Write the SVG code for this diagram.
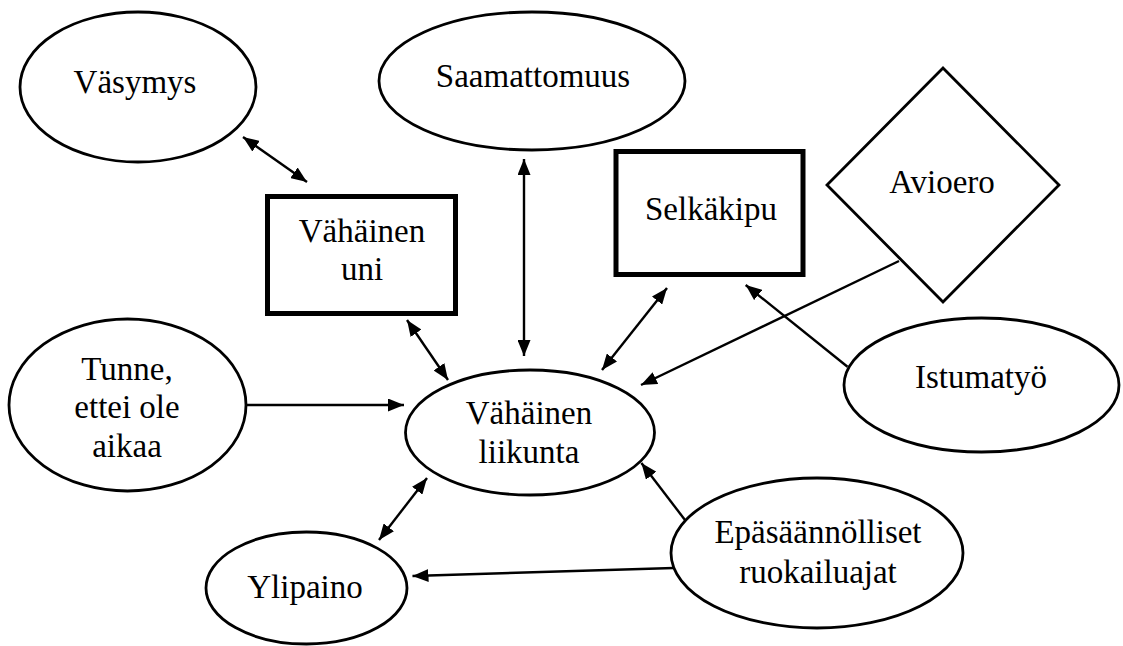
<svg xmlns="http://www.w3.org/2000/svg" width="1123" height="646" viewBox="0 0 1123 646">
<style>
.n{fill:#fff;stroke:#000;stroke-width:2.8}
.b{fill:#fff;stroke:#000;stroke-width:5}
.t{font-family:"Liberation Serif","DejaVu Serif",serif;font-size:33px;fill:#000;text-anchor:middle}
.c line{stroke:#000;stroke-width:2.4}
</style>
<defs>
<marker id="ah" viewBox="0 0 16 13" refX="16" refY="6.5" markerWidth="16" markerHeight="13" markerUnits="userSpaceOnUse" orient="auto-start-reverse">
<path d="M0,0 L16,6.5 L0,13 z" fill="#000"/>
</marker>
</defs>
<rect width="1123" height="646" fill="#fff"/>
<g class="c" id="connectors">
<line x1="243" y1="137" x2="307" y2="182" marker-start="url(#ah)" marker-end="url(#ah)"/>
<line x1="524" y1="159" x2="524" y2="356" marker-start="url(#ah)" marker-end="url(#ah)"/>
<line x1="407" y1="320" x2="448" y2="380" marker-start="url(#ah)" marker-end="url(#ah)"/>
<line x1="667" y1="288" x2="602" y2="370" marker-start="url(#ah)" marker-end="url(#ah)"/>
<line x1="899" y1="261" x2="641" y2="385" marker-end="url(#ah)"/>
<line x1="847.5" y1="366.7" x2="745.7" y2="285" marker-end="url(#ah)"/>
<line x1="246" y1="405" x2="404" y2="405" marker-end="url(#ah)"/>
<line x1="427" y1="478" x2="379" y2="540" marker-start="url(#ah)" marker-end="url(#ah)"/>
<line x1="685" y1="520" x2="641.4" y2="463" marker-end="url(#ah)"/>
<line x1="673.6" y1="568" x2="412.5" y2="576" marker-end="url(#ah)"/>
</g>
<g id="vasymys"><ellipse class="n" cx="138" cy="87" rx="118" ry="75"/><text class="t" x="135" y="93">Väsymys</text></g>
<g id="saamattomuus"><ellipse class="n" cx="532" cy="81" rx="153" ry="69"/><text class="t" x="533" y="87">Saamattomuus</text></g>
<g id="vahainen-uni"><rect class="b" x="267.5" y="196.5" width="188" height="117"/><text class="t" x="362" y="242">Vähäinen</text><text class="t" x="362" y="280">uni</text></g>
<g id="selkakipu"><rect class="b" x="616" y="151.5" width="187" height="123"/><text class="t" x="711" y="220">Selkäkipu</text></g>
<g id="avioero"><polygon class="n" points="943,68 1059,185 943,302 827,185"/><text class="t" x="942" y="193">Avioero</text></g>
<g id="tunne"><ellipse class="n" cx="127.5" cy="405" rx="118.5" ry="86"/><text class="t" x="127" y="380">Tunne,</text><text class="t" x="127" y="418">ettei ole</text><text class="t" x="127" y="457">aikaa</text></g>
<g id="vahainen-liikunta"><ellipse class="n" cx="530" cy="432.5" rx="124.5" ry="62.5"/><text class="t" x="529" y="424">Vähäinen</text><text class="t" x="529" y="463">liikunta</text></g>
<g id="istumatyo"><ellipse class="n" cx="981.5" cy="385" rx="137.5" ry="67"/><text class="t" x="981" y="388">Istumatyö</text></g>
<g id="epasaannolliset"><ellipse class="n" cx="817" cy="553" rx="146" ry="75"/><text class="t" x="818" y="543">Epäsäännölliset</text><text class="t" x="818" y="583">ruokailuajat</text></g>
<g id="ylipaino"><ellipse class="n" cx="306.5" cy="588" rx="100.5" ry="56"/><text class="t" x="305" y="598">Ylipaino</text></g>
</svg>
